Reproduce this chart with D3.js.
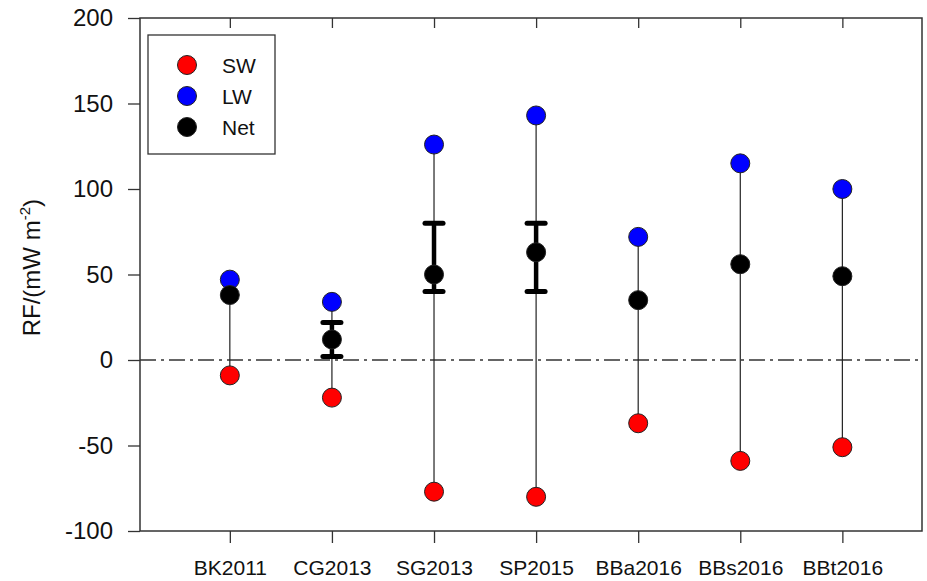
<!DOCTYPE html>
<html>
<head>
<meta charset="utf-8" />
<title>RF chart</title>
<script src="https://d3js.org/d3.v7.min.js"></script>
<style>
body { margin: 0; background: white; }
svg { display: block; font-family: "Liberation Sans", Arial, sans-serif; }
</style>
</head>
<body>
<script>
const sites = ['BK2011', 'CG2013', 'SG2013', 'SP2015', 'BBa2016', 'BBs2016', 'BBt2016'];
const sw = [-9, -22, -77, -80, -37, -59, -51];
const lw = [47, 34, 126, 143, 72, 115, 100];
const net = [38, 12, 50, 63, 35, 56, 49];
// error bars on net (only where drawn)
const netLow = [null, 2, 40, 40, null, null, null];
const netHigh = [null, 22, 80, 80, null, null, null];
const yTicks = [-100, -50, 0, 50, 100, 150, 200];

const w = 927, h = 581;
const padL = 140, padR = 922, padT = 18, padB = 531;

const svg = d3.select('body').append('svg').attr('width', w).attr('height', h);

const x = d3.scaleLinear().domain([-0.88, 6.78]).range([padL, padR]);
const y = d3.scaleLinear().domain([-100, 200]).range([padB, padT]);

// zero line
svg.append('line')
    .attr('x1', padL).attr('x2', padR)
    .attr('y1', y(0)).attr('y2', y(0))
    .attr('stroke', '#333').attr('stroke-width', 1.3)
    .attr('stroke-dasharray', '16,5,3,5');

// axes
const yAxis = d3.axisLeft(y).tickValues(yTicks).tickSize(12).tickPadding(15)
    .tickFormat((d) => String(d));
const xAxis = d3.axisBottom(x).tickValues(d3.range(sites.length)).tickSize(12).tickPadding(17)
    .tickFormat((d) => sites[d]);
const topAxis = d3.axisBottom(x).tickValues(d3.range(sites.length)).tickSize(10).tickFormat('');

const gy = svg.append('g').attr('transform', 'translate(' + padL + ',0)').call(yAxis);
const gx = svg.append('g').attr('transform', 'translate(0,' + padB + ')').call(xAxis);
const gt = svg.append('g').attr('transform', 'translate(0,' + padT + ')').call(topAxis);
[gy, gx, gt].forEach((g) => {
    g.select('.domain').remove();
    g.selectAll('line').attr('stroke', '#333').attr('stroke-width', 1.3);
    g.selectAll('text').attr('fill', '#111');
});
gy.selectAll('text').style('font-size', '24px');
gx.selectAll('text').style('font-size', '21px');

// frame
svg.append('rect')
    .attr('x', padL).attr('y', padT)
    .attr('width', padR - padL).attr('height', padB - padT)
    .attr('fill', 'none').attr('stroke', '#333').attr('stroke-width', 1.5);

// y title
svg.append('text')
    .attr('transform', 'translate(40,' + (y(54)) + ') rotate(-90)')
    .attr('text-anchor', 'middle')
    .style('font-size', '24px').attr('fill', '#111')
    .html('RF/(mW m<tspan dy="-10" font-size="15">-2</tspan><tspan dy="10">)</tspan>');

// range lines SW..LW
svg.selectAll('.range').data(sites).enter().append('line')
    .attr('class', 'range')
    .attr('x1', (d, i) => x(i)).attr('x2', (d, i) => x(i))
    .attr('y1', (d, i) => y(sw[i])).attr('y2', (d, i) => y(lw[i]))
    .attr('stroke', '#222').attr('stroke-width', 1.2);

// error bars on net
const eb = sites.map((d, i) => i).filter((i) => netLow[i] !== null);
svg.selectAll('.err').data(eb).enter().append('line')
    .attr('x1', (i) => x(i)).attr('x2', (i) => x(i))
    .attr('y1', (i) => y(netLow[i])).attr('y2', (i) => y(netHigh[i]))
    .attr('stroke', 'black').attr('stroke-width', 4.5);
['low', 'high'].forEach((k) => {
    svg.selectAll('.cap' + k).data(eb).enter().append('line')
        .attr('x1', (i) => x(i) - 9).attr('x2', (i) => x(i) + 9)
        .attr('y1', (i) => y(k === 'low' ? netLow[i] : netHigh[i]))
        .attr('y2', (i) => y(k === 'low' ? netLow[i] : netHigh[i]))
        .attr('stroke', 'black').attr('stroke-width', 5).attr('stroke-linecap', 'round');
});

// points
const series = [
    { name: 'SW', vals: sw, color: '#ff0000' },
    { name: 'LW', vals: lw, color: '#0000ff' },
    { name: 'Net', vals: net, color: '#000000' }
];
series.forEach((s) => {
    svg.selectAll('.pt-' + s.name).data(s.vals).enter().append('circle')
        .attr('cx', (d, i) => x(i)).attr('cy', (d) => y(d))
        .attr('r', 9.5)
        .attr('fill', s.color).attr('stroke', '#222').attr('stroke-width', 1);
});

// legend
const lg = svg.append('g');
lg.append('rect')
    .attr('x', 148).attr('y', 35).attr('width', 127).attr('height', 119)
    .attr('fill', 'white').attr('stroke', '#333').attr('stroke-width', 1.3);
series.forEach((s, i) => {
    lg.append('circle').attr('cx', 187).attr('cy', 65 + i * 31).attr('r', 9.5)
        .attr('fill', s.color).attr('stroke', '#222').attr('stroke-width', 1);
    lg.append('text').attr('x', 222).attr('y', 65 + i * 31).attr('dy', '0.36em')
        .style('font-size', '21px').attr('fill', '#111').text(s.name);
});
</script>
</body>
</html>
